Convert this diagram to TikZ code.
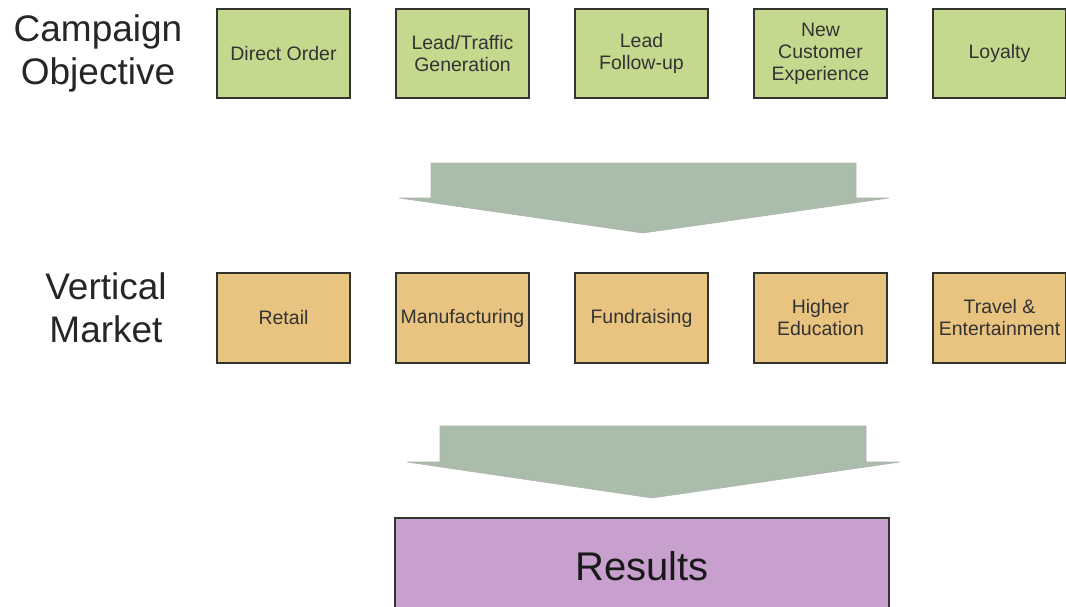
\documentclass[tikz,border=0pt]{standalone}
\usepackage{fontspec}
\setmainfont{Liberation Sans}
\usetikzlibrary{positioning}
\definecolor{objgreen}{RGB}{197,217,142}
\definecolor{mktorange}{RGB}{233,196,128}
\definecolor{arrowgray}{RGB}{170,188,170}
\definecolor{respurple}{RGB}{199,160,205}
\definecolor{edgegray}{RGB}{52,52,46}

\begin{document}
\begin{tikzpicture}[x=1pt,y=-1pt,
    objbox/.style={draw=edgegray,line width=2pt,fill=objgreen,minimum width=133pt,minimum height=89pt,inner sep=2pt,align=center,text=black!80,font=\fontsize{19.5}{22}\selectfont},
    mktbox/.style={objbox,fill=mktorange,minimum height=90pt},
    rowlabel/.style={align=center,inner sep=0pt,text=black!85,font=\fontsize{37}{43}\selectfont},
    bigarrow/.style={fill=arrowgray,draw=black!30,line width=0.6pt,line join=miter}]
    \useasboundingbox (0,0) rectangle (1066,606);
    % first row
    \node[rowlabel] (CO) at (98,53) {Campaign\\Objective};
    \node[objbox] (A1) at (283.5,53.5) {Direct Order};
    \node[objbox,right=44pt of A1] (A2) {Lead/Traffic\\Generation};
    \node[objbox,right=44pt of A2] (A3) {Lead\\Follow-up};
    \node[objbox,right=44pt of A3] (A4) {New\\Customer\\Experience};
    \node[objbox,right=44pt of A4] (A5) {Loyalty};
    % arrow down
    \draw[bigarrow] (431,163) -- (856,163) -- (856,198) -- (889,198) -- (643,233) -- (399,198) -- (431,198) -- cycle;
    % second row
    \node[rowlabel] (VM) at (106,308) {Vertical\\Market};
    \node[mktbox] (B1) at (283.5,318) {Retail};
    \node[mktbox,right=44pt of B1] (B2) {Manufacturing};
    \node[mktbox,right=44pt of B2] (B3) {Fundraising};
    \node[mktbox,right=44pt of B3] (B4) {Higher\\Education};
    \node[mktbox,right=44pt of B4] (B5) {Travel \&\\Entertainment};
    % arrow down
    \draw[bigarrow] (440,426) -- (866,426) -- (866,462) -- (900,462) -- (652,498) -- (407,462) -- (440,462) -- cycle;
    \node[draw=edgegray,line width=2pt,fill=respurple,minimum width=494pt,minimum height=96pt,text=black!90,font=\fontsize{40}{46}\selectfont] (R) at (642,566) {Results};
\end{tikzpicture}
\end{document}
